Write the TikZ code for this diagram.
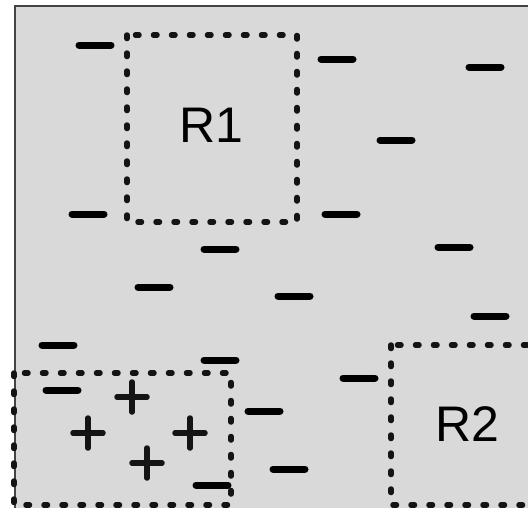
\documentclass[tikz,border=0pt]{standalone}
\usepackage{fontspec}
\setmainfont{Liberation Sans}
\definecolor{panel}{RGB}{217,217,217}
\definecolor{ink}{RGB}{20,20,20}
\tikzset{
  panelfill/.style={fill=panel},
  frame/.style={draw=ink!80, line width=2pt},
  region/.style={draw=ink, line width=5.5pt, line cap=round, dash pattern=on 3.5pt off 14.5pt},
  negcharge/.style={draw=black, line width=7pt, line cap=round},
  poscharge/.style={draw=ink, line width=5.5pt, line cap=round},
  regionlabel/.style={inner sep=0pt, font=\fontsize{50}{50}\selectfont}
}
\begin{document}
\begin{tikzpicture}[x=1pt,y=-1pt]
\useasboundingbox (0,0) rectangle (528,507);
\begin{scope}
\clip (0,0) rectangle (528,507);
% background panel with its frame on the left and top
\fill[panelfill] (15,6) rectangle (540,520);
\draw[frame] (15,520) -- (15,6) -- (540,6);
% dotted regions
\draw[region] (127,35) rectangle (297,222);
\draw[region] (14,373) rectangle (231,505);
\draw[region] (391,345) rectangle (560,505);
% negative charges
\foreach \x/\y in {95/45, 337/59, 485/67, 396/140, 88/214, 341/214, 220/249,
  454/247, 154/287, 294/296, 490/316, 58/345, 220/360, 359/378, 62/390,
  264/411, 289/469, 212/485}
  \draw[negcharge] (\x-16,\y) -- (\x+16,\y);
% positive charges
\foreach \x/\y in {132/397, 88/433, 190/433, 147/463}
  \draw[poscharge] (\x-15,\y) -- (\x+15,\y) (\x,\y-15) -- (\x,\y+15);
\end{scope}
% region names
\node[regionlabel] (r1) at (211,125) {R1};
\node[regionlabel] (r2) at (467,424) {R2};
\end{tikzpicture}
\end{document}
